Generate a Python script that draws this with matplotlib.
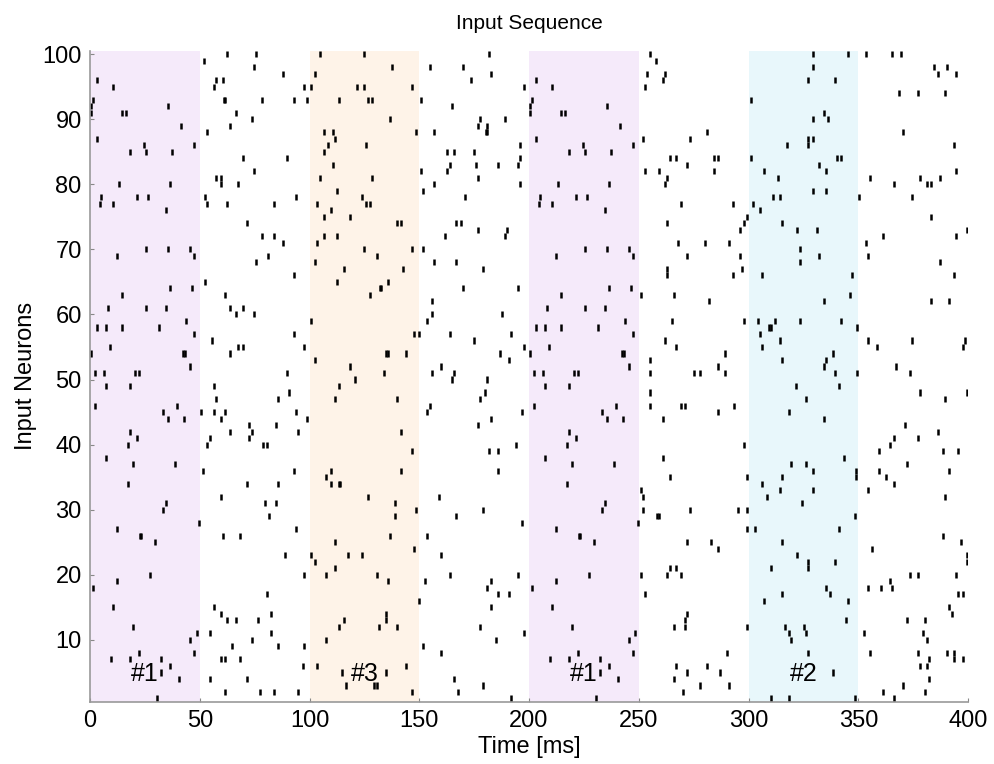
import matplotlib
matplotlib.use("Agg")
import matplotlib.pyplot as plt

# ---------------- data (time [ms], neuron index) ----------------
# pattern #1 (shown at 0-50 ms and repeated at 200-250 ms), times relative to pattern onset
pattern1 = [(3.3,96),(10.3,95),(1.4,93),(0.3,92),(0.3,91),(35.4,92),(14.4,91),(16.6,91),(41.5,89),(3.3,87),
            (24.5,86),(47.4,86),(18.4,85),(25.7,85),(37.5,85),(13.4,80),(36.5,80),(5.2,78),(4.4,77),(10.3,77),
            (21.6,78),(26.4,78),(34.5,76),(25.5,70),(35.4,70),(45.4,70),(47.4,69),(12.5,69),
            (36.5,64),(46.6,64),(14.4,63),(8.4,61),(25.5,61),(34.5,61),(3.3,58),(7.4,58),(14.4,58),(31.5,58),
            (43.6,59),(47.4,57),(9.3,55),(0.3,54),(42.5,54),(43.3,54),(45.4,52),(2.3,51),(6.4,51),(20.4,51),
            (22.5,51),(7.4,49),(18.4,49),(2.3,46),(39.5,46),(33.4,45),(35.4,44),(42.7,44),(18.4,42),(21.6,41),
            (17.5,40),(7.4,38),(19.4,37),(38.6,37),(17.5,34),
            (34.5,31),(33.4,30),(49.5,28),(12.5,27),(22.8,26),(23.4,26),(29.5,25),(27.5,20),(12.5,19),(1.4,18),
            (10.3,15),(19.4,12),(48.5,11),(45.4,10),(22.5,8),(47.4,8),(9.4,7),(18.4,7),(32.5,7),(36.5,6),
            (32.5,5),(40.4,4),(30.5,1)]
pattern1_onsets = [0, 200]

# pattern #3 (100-150 ms), absolute times
pattern3 = [(104.6,100),(124.7,100),(137.7,98),(102.6,97),(100.8,95),(121.8,95),(124.7,95),(146.8,95),(113.6,93),
            (126.6,93),(128.6,93),(136.7,90),(106.6,88),(110.5,88),(111.6,87),(148.7,88),(108.6,86),(125.7,86),
            (106.6,85),(110.5,83),(104.6,81),(128.6,81),(112.7,79),(123.8,78),(103.6,77),(125.7,77),(127.7,77),
            (109.6,76),(106.6,75),(118.6,75),(139.7,74),(141.8,74),(106.6,72),(112.7,72),(103.6,71),(124.7,70),
            (146.8,70),(130.7,69),(102.6,68),
            (115.7,67),(142.7,67),(112.7,65),(135.8,65),(132.0,64),(132.7,64),(127.7,63),(100.8,59),(147.8,57),
            (149.7,57),(135.0,54),(135.7,54),(143.8,54),(102.6,53),(118.6,52),(133.8,51),(120.7,50),(113.6,49),
            (111.6,47),(139.7,47),(141.8,42),(146.8,39),(109.6,36),(141.8,36),(107.7,35),(109.6,34),(113.2,34),
            (113.9,34),
            (126.6,32),(138.8,31),(148.7,30),(138.8,29),(136.7,26),(111.6,25),(147.8,24),(100.8,23),(102.6,22),
            (117.7,23),(123.8,23),(111.6,21),(107.7,20),(130.7,20),(135.8,19),(115.7,13),(113.6,12),(134.7,14),
            (134.7,13),(131.8,12),(139.7,12),(107.7,10),(103.6,6),(143.8,6),(114.6,5),(134.7,5),(116.8,3),
            (129.2,3),(130.7,3),(146.8,2),(149.7,16)]

# pattern #2 (300-350 ms), absolute times
pattern2 = [(329.4,100),(345.4,100),(329.4,98),(327.1,96),(339.3,96),(301.3,93),(334.4,91),(329.4,90),(336.3,90),
            (327.3,87),(327.3,86),(329.4,87),(317.3,86),(301.3,84),(340.2,84),(342.3,84),(332.3,83),(307.2,82),
            (335.3,82),(313.3,81),(329.4,79),(335.3,79),(311.2,78),(314.4,78),(302.2,77),(305.3,76),(315.4,74),
            (322.3,73),(331.4,73),(323.5,70),(332.3,69),(323.5,68),
            (306.2,66),(347.3,66),(346.4,63),(334.4,62),(304.2,59),(312.1,59),(323.3,59),(342.3,59),(309.5,58),
            (310.2,58),(349.3,58),(305.3,57),(314.4,56),(306.2,55),(338.4,54),(315.4,53),(335.3,53),(334.4,52),
            (339.4,51),(349.3,51),(321.4,49),(341.4,49),(326.4,47),(318.3,45),(334.4,44),(343.4,38),(319.2,37),
            (326.4,37),(329.4,36),(348.9,36),(348.9,35),(315.4,35),(306.2,34),
            (314.4,33),(329.4,33),(308.3,32),(324.4,31),(348.4,29),(303.1,27),(341.4,27),(315.4,25),(322.3,23),
            (327.3,22),(327.3,21),(339.4,22),(310.3,21),(335.3,18),(337.3,17),(315.4,17),(307.2,16),(345.4,16),
            (344.5,13),(316.4,12),(318.3,11),(319.2,10),(325.3,12),(326.4,11),(327.3,8),(338.4,5),(310.3,1),
            (318.3,1),(348.4,1)]

# background (noise) spikes outside the patterns
noise_50_100 = [(62.4,100),(75.7,100),(51.7,99),(74.6,98),(57.5,96),(60.6,96),(87.7,97),(56.5,95),(97.7,95),
                (60.8,93),(61.4,93),(78.5,93),(92.7,93),(98.7,93),(66.7,91),(73.6,90),(63.7,89),(53.5,88),
                (69.5,84),(89.7,84),(74.6,82),(57.5,81),(59.6,81),(59.6,80),(67.6,80),(52.4,78),(53.5,77),
                (62.6,77),(83.7,77),(93.8,78),(71.6,74),(78.5,72),(83.7,72),(87.7,71),(80.9,69),(75.7,68),
                (92.7,66),(52.4,65),(61.7,63),(63.7,61),(69.6,61),(66.7,60),(74.6,60),(92.7,57),(55.5,56),
                (67.6,55),(69.6,55),(97.7,55),(63.7,54),(89.7,51),(56.5,49),(90.7,48),(57.6,47),(85.6,47),
                (50.6,45),(56.5,45),(61.7,45),(93.8,45),(59.6,44),(98.7,44),(72.6,43),(84.6,43),(63.7,42),
                (73.6,42),(94.7,42),(54.6,41),(72.6,41),(53.5,40),(78.7,40),(80.7,40),(51.5,36),(92.7,36),
                (71.7,34),(85.6,34),
                (59.6,32),(79.6,31),(84.6,31),(81.6,29),(93.8,27),(60.5,26),(68.5,26),(88.6,23),(97.7,20),
                (80.7,17),(56.5,15),(59.6,14),(82.6,14),(62.6,13),(66.7,13),(76.6,13),(54.6,11),(82.6,11),
                (73.6,10),(64.6,9),(85.7,9),(97.7,9),(59.6,7),(61.5,7),(68.5,7),(96.8,6),(54.6,4),(71.7,4),
                (61.5,2),(77.6,2),(83.7,2),(94.7,2)]

noise_150_200 = [(181.9,100),(154.7,98),(169.8,98),(182.8,97),(173.7,96),(197.9,95),(150.8,93),(164.9,92),
                 (177.8,90),(188.9,90),(176.8,89),(181.0,89),(156.7,88),(180.3,88),(181.0,88),(195.9,86),
                 (162.8,85),(165.8,85),(174.8,85),(195.9,84),(163.9,83),(175.9,83),(185.9,83),(194.8,83),
                 (150.8,82),(162.8,82),(176.8,81),(156.7,80),(195.9,80),(151.7,79),(170.8,78),(166.9,74),
                 (168.9,74),(176.8,73),(189.8,73),(161.7,72),(188.9,72),(151.7,70),(156.7,68),(166.7,68),
                 (178.9,67),(169.8,64),(195.0,64),(155.8,62),(155.8,60),(187.9,60),(153.7,59),(163.9,57),
                 (192.0,57),(174.8,56),(197.9,55),(186.9,54),(190.9,53),(159.9,52),(155.8,51),(165.8,51),
                 (164.9,50),(181.0,50),(179.8,48),(177.8,47),(154.7,46),(153.7,45),(197.0,45),(182.8,44),
                 (176.8,43),(193.9,40),(181.9,39),(185.9,39),(185.9,36),
                 (158.8,32),(178.9,30),(166.9,29),(197.0,28),(153.7,26),(159.9,23),(163.9,20),(194.8,20),
                 (152.8,19),(182.8,19),(181.0,18),(185.9,17),(190.9,17),(182.8,15),(177.8,12),(197.9,11),
                 (184.8,10),(151.7,9),(159.9,8),(165.8,4),(178.9,3),(167.8,2),(192.0,1)]

noise_250_300 = [(254.9,100),(258.0,99),(253.9,97),(262.1,97),(261.0,96),(253.0,95),(281.2,88),(252.1,87),
                 (273.2,87),(264.1,84),(267.1,84),(284.1,84),(286.1,84),(272.1,83),(253.0,82),(259.0,82),
                 (284.1,82),(263.0,81),(262.1,80),(269.1,77),(293.1,77),(299.1,75),(298.1,74),(263.0,74),
                 (296.1,73),(268.0,71),(280.0,71),(291.1,71),(272.1,69),(296.1,69),
                 (263.0,67),(263.0,66),(297.2,67),(293.1,66),(251.0,63),(266.0,63),(282.1,62),(265.1,59),
                 (298.1,59),(262.1,56),(267.1,55),(289.1,54),(255.1,53),(286.1,52),(255.1,51),(275.0,51),
                 (278.0,51),(289.1,51),(255.1,48),(255.1,46),(269.1,46),(271.1,46),(293.2,46),(286.1,45),
                 (261.0,44),(298.1,40),(261.0,38),(264.1,35),(299.1,35),
                 (251.0,33),(252.1,32),(252.1,30),(273.2,30),(295.0,30),(299.1,30),(258.3,29),(259.0,29),
                 (299.1,27),(272.1,25),(283.0,25),(286.1,24),(251.0,20),(264.1,21),(267.1,21),(263.0,20),
                 (269.1,20),(253.0,17),(272.1,14),(271.1,13),(271.1,12),(266.0,12),(299.1,12),(290.2,8),
                 (267.1,6),(281.2,6),(272.1,5),(287.1,5),(266.0,4),(278.0,3),(291.1,3),(270.0,2)]

noise_350_400 = [(353.3,100),(365.4,100),(369.4,100),(384.4,98),(390.5,98),(386.4,97),(394.4,97),(368.5,94),
                 (377.3,94),(389.4,94),(370.4,88),(393.5,86),(394.4,82),(355.4,81),(378.3,81),(387.4,81),
                 (366.3,80),(381.5,80),(383.3,80),(350.4,78),(374.5,78),(383.3,75),(399.4,73),(361.3,72),
                 (394.7,72),(353.3,71),(354.3,69),(387.4,68),
                 (393.5,66),(383.3,62),(391.4,62),(354.3,56),(374.4,56),(398.5,56),(358.4,55),(397.5,55),
                 (367.4,52),(373.5,51),(378.3,48),(399.4,48),(389.4,47),(371.3,43),(386.4,42),(366.3,41),
                 (377.4,41),(364.4,40),(359.3,39),(388.5,39),(395.5,39),(372.4,37),(359.3,36),(391.5,36),
                 (362.4,35),(366.3,34),
                 (354.3,33),(389.4,32),(388.5,26),(396.6,25),(356.3,24),(399.4,23),(399.4,22),(373.5,20),
                 (377.4,20),(394.6,20),(364.5,19),(354.3,18),(360.4,18),(365.4,18),(395.5,17),(397.5,17),
                 (391.4,15),(392.5,14),(372.4,13),(380.5,13),(352.4,11),(379.4,11),(381.4,10),(355.4,8),
                 (377.4,8),(390.5,8),(393.5,8),(382.4,7),(393.5,7),(397.5,7),(378.3,6),(381.4,6),(382.4,4),
                 (370.4,3),(361.3,2),(380.5,2),(366.3,1)]

# pattern windows: (start, end, label, colour)
windows = [(0, 50, "#1", "#f5eafa"), (100, 150, "#3", "#fef3e8"),
           (200, 250, "#1", "#f5eafa"), (300, 350, "#2", "#e8f7fb")]

xticks = [0, 50, 100, 150, 200, 250, 300, 350, 400]
yticks = [10, 20, 30, 40, 50, 60, 70, 80, 90, 100]

# ---------------- assemble spikes ----------------
spikes = []
for onset in pattern1_onsets:
    spikes += [(t + onset, n) for t, n in pattern1]
spikes += pattern3 + pattern2 + noise_50_100 + noise_150_200 + noise_250_300 + noise_350_400
ts = [s[0] for s in spikes]
ns = [s[1] for s in spikes]

# ---------------- plot ----------------
plt.rcParams['font.family'] = ['Liberation Sans', 'DejaVu Sans']
fig = plt.figure(figsize=(9.95, 7.64), dpi=100)
ax = fig.add_axes([0.0905, 0.0815, 0.8824, 0.852])

for start, end, label, col in windows:
    ax.axvspan(start, end, color=col, lw=0, zorder=0)
    ax.text((start + end) / 2, 4.8, label, ha='center', va='center', fontsize=18, zorder=3)

ax.vlines(ts, [n - 0.47 for n in ns], [n + 0.47 for n in ns], colors='black', lw=1.8, zorder=2)

ax.set_xlim(0, 400)
ax.set_ylim(0.5, 100.5)
ax.set_xticks(xticks)
ax.set_yticks(yticks)
ax.tick_params(direction='in', length=3, width=0.8, color='#888888', labelsize=17, pad=6)
for side in ('top', 'right'):
    ax.spines[side].set_visible(False)
for side in ('left', 'bottom'):
    ax.spines[side].set_color('#999999')
    ax.spines[side].set_linewidth(1.2)

ax.set_title("Input Sequence", fontsize=15, pad=16)
ax.set_xlabel("Time [ms]", fontsize=17, labelpad=3)
ax.set_ylabel("Input Neurons", fontsize=17, labelpad=4)

fig.savefig("out.png", dpi=100)
